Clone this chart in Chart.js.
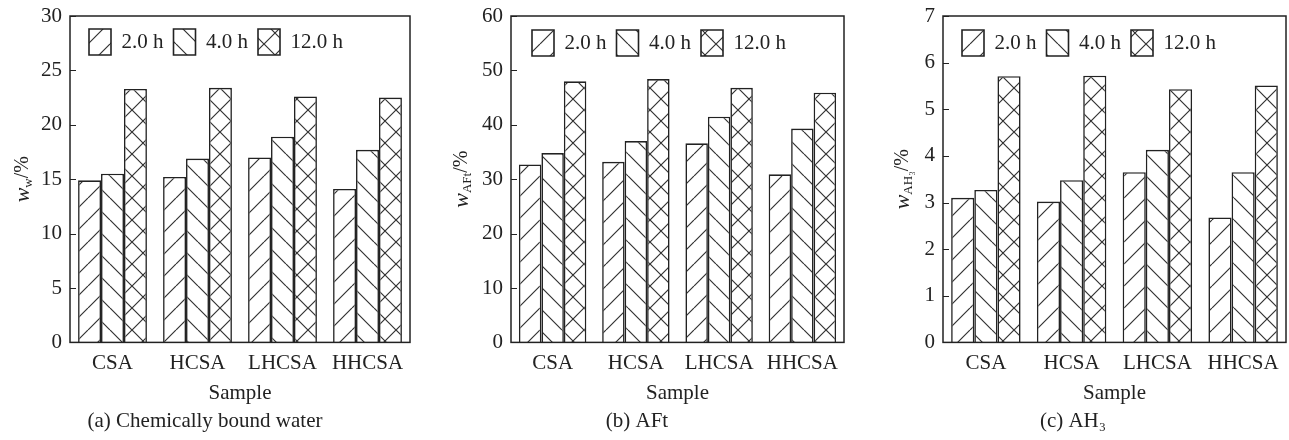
<!DOCTYPE html>
<html>
<head>
<meta charset="utf-8">
<script src="https://cdn.jsdelivr.net/npm/chart.js@4.4.1/dist/chart.umd.min.js"></script>
<style>
  body { margin: 0; background: #fff; width: 1289px; height: 440px; overflow: hidden; position: relative; }
  .panel { position: absolute; top: 0; height: 440px; }
</style>
</head>
<body>
<div class="panel" style="left:0;width:430px"><canvas id="chartA" width="430" height="440"></canvas></div>
<div class="panel" style="left:430px;width:430px"><canvas id="chartB" width="430" height="440"></canvas></div>
<div class="panel" style="left:860px;width:429px"><canvas id="chartC" width="429" height="440"></canvas></div>
<script>
const samples = ['CSA', 'HCSA', 'LHCSA', 'HHCSA'];
const timeLabels = ['2.0 h', '4.0 h', '12.0 h'];

// (a) chemically bound water, %
const water2h  = [14.9, 15.2, 17.0, 14.1];
const water4h  = [15.5, 16.9, 18.9, 17.7];
const water12h = [23.3, 23.4, 22.6, 22.5];

// (b) AFt, %
const aft2h  = [32.7, 33.2, 36.6, 30.9];
const aft4h  = [34.8, 37.0, 41.5, 39.3];
const aft12h = [48.0, 48.4, 46.8, 45.9];

// (c) AH3, %
const ah2h  = [3.10, 3.02, 3.65, 2.68];
const ah4h  = [3.27, 3.48, 4.13, 3.65];
const ah12h = [5.71, 5.72, 5.43, 5.51];

// y axes: max and tick step of each panel
const yMax  = [30, 60, 7];
const yStep = [5, 10, 1];

const captions = ['(a) Chemically bound water', '(b) AFt', '(c) AH\u2083'];

const FONT = '"Liberation Serif", "Times New Roman", serif';
const INK = '#222';

// hatch fills: '/' for 2 h, '\' for 4 h, cross for 12 h
function hatch(kind) {
  const s = 22;
  const c = document.createElement('canvas');
  c.width = s; c.height = s;
  const g = c.getContext('2d');
  g.fillStyle = '#fff';
  g.fillRect(0, 0, s, s);
  g.strokeStyle = '#333';
  g.lineWidth = 1.2;
  g.beginPath();
  for (let k = -1; k <= 1; k++) {
    if (kind !== 'back') { g.moveTo(k * s, s); g.lineTo(k * s + s, 0); }
    if (kind !== 'fwd')  { g.moveTo(k * s, 0); g.lineTo(k * s + s, s); }
  }
  g.stroke();
  return g.createPattern(c, 'repeat');
}
const fills = [hatch('fwd'), hatch('back'), hatch('cross')];

// box round the plot and short ticks pointing inwards
const framePlugin = {
  id: 'frame',
  afterDatasetsDraw(chart) {
    const { ctx, chartArea: a } = chart;
    const y = chart.scales.y;
    ctx.save();
    ctx.strokeStyle = INK;
    ctx.lineWidth = 1;
    ctx.beginPath();
    y.ticks.forEach(t => {
      const py = Math.round(y.getPixelForValue(t.value)) + 0.5;
      ctx.moveTo(a.left, py);
      ctx.lineTo(a.left + 6, py);
    });
    ctx.stroke();
    ctx.lineWidth = 1.5;
    ctx.strokeRect(a.left, a.top, a.right - a.left, a.bottom - a.top);
    ctx.restore();
  }
};

// legend sits inside the plot, laid out in one row, nudged a little
const legendShift = {
  id: 'legendShift',
  beforeLayout(chart) {
    if (chart.legend) chart.legend.isHorizontal = () => true;
  },
  afterLayout(chart, args, opts) {
    const lg = chart.legend;
    if (!lg) return;
    const a = chart.chartArea;
    lg.left = a.left + opts.dx;
    lg.right = lg.left + lg.width;
    lg.top = a.top + opts.dy;
    lg.bottom = lg.top + lg.height;
  }
};

// rotated y title with subscripts
const yTitle = {
  id: 'yTitle',
  afterDraw(chart, args, opts) {
    const { ctx, chartArea: a } = chart;
    ctx.save();
    ctx.translate(opts.x, (a.top + a.bottom) / 2);
    ctx.rotate(-Math.PI / 2);
    ctx.fillStyle = INK;
    ctx.textBaseline = 'middle';
    let total = 0;
    opts.parts.forEach(p => { ctx.font = p.font; total += ctx.measureText(p.text).width; });
    let x = -total / 2;
    opts.parts.forEach(p => {
      ctx.font = p.font;
      ctx.fillText(p.text, x, p.dy);
      x += ctx.measureText(p.text).width;
    });
    ctx.restore();
  }
};

function titleParts(sub) {
  return [
    { text: 'w', font: 'italic 22px ' + FONT, dy: 0 },
    { text: sub, font: '13px ' + FONT, dy: 6 },
    { text: '/%', font: '20px ' + FONT, dy: 0 }
  ];
}

function makeChart(id, series, i, cfg) {
  return new Chart(document.getElementById(id), {
    type: 'bar',
    data: {
      labels: samples,
      datasets: series.map((v, k) => ({
        label: timeLabels[k],
        data: v,
        backgroundColor: fills[k],
        borderColor: INK,
        borderWidth: 1.6,
        categoryPercentage: 0.81,
        barPercentage: 1
      }))
    },
    options: {
      responsive: false,
      animation: false,
      events: [],
      layout: { padding: { left: 0, right: cfg.padRight, top: 16, bottom: 6 } },
      scales: {
        x: {
          grid: { display: false, drawTicks: false },
          border: { display: false },
          ticks: { color: INK, font: { family: FONT, size: 21 }, padding: 8, maxRotation: 0, autoSkip: false },
          title: { display: true, text: 'Sample', color: INK, font: { family: FONT, size: 21 }, padding: { top: -3, bottom: 0 } }
        },
        y: {
          min: 0,
          max: yMax[i],
          grid: { display: false, drawTicks: false },
          border: { display: false },
          ticks: { stepSize: yStep[i], color: INK, font: { family: FONT, size: 21, lineHeight: 0.75 }, padding: 8 },
          afterFit(s) { s.width = cfg.left; }
        }
      },
      plugins: {
        legend: {
          position: 'chartArea',
          align: 'start',
          labels: { boxWidth: 22, boxHeight: 26, padding: 10, color: INK, font: { family: FONT, size: 21 } }
        },
        title: {
          display: true,
          position: 'bottom',
          text: captions[i],
          color: INK,
          font: { family: FONT, size: 21, weight: 'normal' },
          padding: { top: 3, bottom: 0 }
        },
        tooltip: { enabled: false },
        legendShift: { dx: cfg.dx, dy: cfg.dy },
        yTitle: { x: cfg.titleX, parts: titleParts(cfg.sub) }
      }
    },
    plugins: [legendShift, framePlugin, yTitle]
  });
}

makeChart('chartA', [water2h, water4h, water12h], 0, { left: 70, padRight: 20, dx: 9, dy: 3, titleX: 23, sub: 'w' });
makeChart('chartB', [aft2h, aft4h, aft12h], 1, { left: 81, padRight: 16, dx: 11, dy: 4, titleX: 32, sub: 'AFt' });
makeChart('chartC', [ah2h, ah4h, ah12h], 2, { left: 83, padRight: 3, dx: 9, dy: 4, titleX: 43, sub: 'AH\u2083' });
</script>
</body>
</html>
